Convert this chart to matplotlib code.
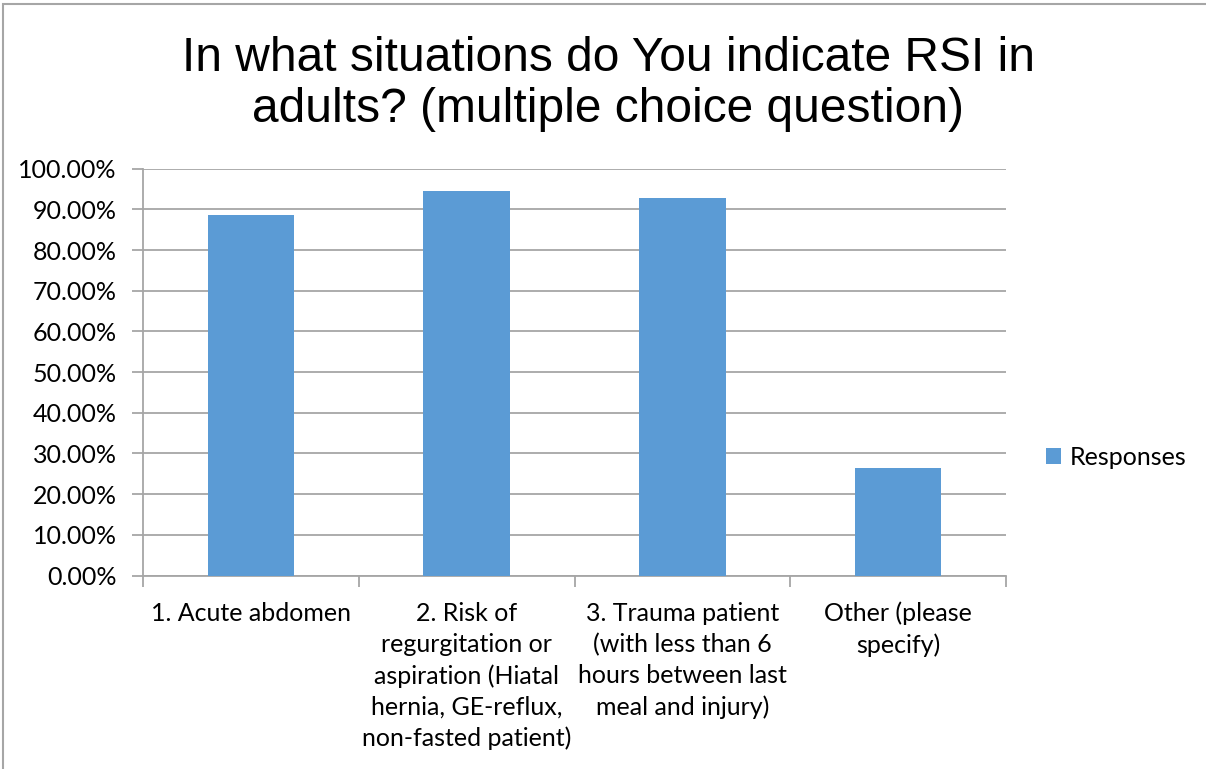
import matplotlib.pyplot as plt
from matplotlib.patches import Rectangle
import numpy as np

categories = ['1. Acute abdomen',
              '2. Risk of\nregurgitation or\naspiration (Hiatal\nhernia, GE-reflux,\nnon-fasted patient)',
              '3. Trauma patient\n(with less than 6\nhours between last\nmeal and injury)',
              'Other (please\nspecify)']
responses = [88.5, 94.5, 92.8, 26.4]
yticks = [0, 10, 20, 30, 40, 50, 60, 70, 80, 90, 100]

title = 'In what situations do You indicate RSI in\nadults? (multiple choice question)'
bar_color = '#5b9bd5'
grid_color = '#a6a6a6'
label_font = ['Lato', 'DejaVu Sans']
fs = 18

fig = plt.figure(figsize=(12.06, 7.69), dpi=100)
ax = fig.add_axes([143 / 1206, 1 - 575.5 / 769, (1006 - 143) / 1206, (575.5 - 168.7) / 769])

x = np.arange(len(categories))
ax.bar(x, responses, width=0.4, color=bar_color, label='Responses', zorder=3)

ax.set_xlim(-0.5, len(categories) - 0.5)
ax.set_ylim(0, 100)
ax.set_yticks(yticks)
ax.set_yticklabels(['{:.2f}%'.format(v) for v in yticks], fontsize=fs,
                   family=label_font)
ax.yaxis.grid(True, color=grid_color, linewidth=1.3, zorder=0)

# category labels centred, tick marks at category boundaries
ax.set_xticks(x)
ax.set_xticklabels(categories, fontsize=fs, family=label_font, linespacing=1.42,
                   va='top')
ax.tick_params(axis='x', length=0, pad=19)
ax.set_xticks(np.arange(-0.5, len(categories)), minor=True)
ax.tick_params(axis='x', which='minor', length=8, color=grid_color, width=1.3)
ax.tick_params(axis='y', length=8, color=grid_color, width=1.3, pad=11)

for s in ['top', 'right']:
    ax.spines[s].set_visible(False)
for s in ['left', 'bottom']:
    ax.spines[s].set_color(grid_color)
    ax.spines[s].set_linewidth(1.3)

fig.text(608 / 1206, 1 - 84 / 769, title, ha='center', va='center',
         fontsize=34.5, family='Liberation Sans', linespacing=1.18)

leg = ax.legend(loc='center left', bbox_to_anchor=(1.02, 0.29), frameon=False,
                prop={'family': label_font, 'size': fs},
                handlelength=0.6, handleheight=0.6, handletextpad=0.35)

# outer chart frame
fig.patches.append(Rectangle((3 / 1206, -0.1), 1.2, 1 - 4 / 769 + 0.1,
                             transform=fig.transFigure, fill=False,
                             edgecolor=grid_color, linewidth=1.5))

fig.savefig('out.png', dpi=100)
